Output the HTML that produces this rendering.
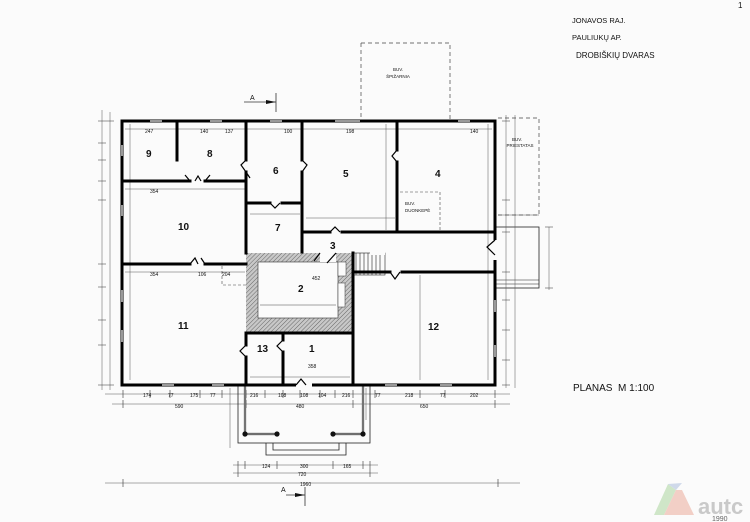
<!DOCTYPE html>
<html><head><meta charset="utf-8"><style>
html,body{margin:0;padding:0;background:#fbfbfb;}
svg{display:block}
text{font-family:"Liberation Sans",sans-serif;fill:#111}
.d{font-size:5px;fill:#333}
.r{font-size:10px;font-weight:bold}
</style></head><body>
<svg width="750" height="522" viewBox="0 0 750 522" xmlns="http://www.w3.org/2000/svg">
<defs>
<pattern id="h" width="3" height="3" patternUnits="userSpaceOnUse" patternTransform="rotate(45)">
<rect width="3" height="3" fill="#c8c8c8"/><line x1="0" y1="0" x2="0" y2="3" stroke="#666" stroke-width="1"/>
</pattern>
</defs>
<rect width="750" height="522" fill="#fbfbfb"/>
<text x="572" y="23" font-size="7.5">JONAVOS RAJ.</text>
<text x="572" y="40" font-size="7.5">PAULIUKŲ AP.</text>
<text x="576" y="58" font-size="8">DROBIŠKIŲ DVARAS</text>
<text x="738" y="8" font-size="8">1</text>
<path d="M361,43 H450 V120 M361,43 V120" stroke="#444" stroke-width="0.7" fill="none" stroke-dasharray="4,3"/>
<text x="398" y="71" font-size="4.5" text-anchor="middle">BUV.</text>
<text x="398" y="78" font-size="4.5" text-anchor="middle">ŠPIŽARNIA</text>
<path d="M498,118 H539 V215 M498,215 H539" stroke="#444" stroke-width="0.7" fill="none" stroke-dasharray="4,3"/>
<text x="517" y="141" font-size="4.5" text-anchor="middle">BUV.</text>
<text x="520" y="147" font-size="4.5" text-anchor="middle">PRIESTATAS</text>
<rect x="495" y="227" width="44" height="61" fill="none" stroke="#222" stroke-width="0.8"/>
<line x1="495" y1="280" x2="539" y2="280" stroke="#222" stroke-width="0.6"/>
<line x1="495" y1="284" x2="539" y2="284" stroke="#222" stroke-width="0.6"/>
<line x1="244" y1="102" x2="276" y2="102" stroke="#333" stroke-width="0.8"/>
<line x1="276" y1="93" x2="276" y2="112" stroke="#333" stroke-width="0.8"/>
<path d="M266,100 L276,102 L266,104Z" fill="#111"/>
<text x="250" y="100" font-size="7">A</text>
<line x1="286" y1="495" x2="305" y2="495" stroke="#333" stroke-width="0.8"/>
<line x1="305" y1="487" x2="305" y2="506" stroke="#333" stroke-width="0.8"/>
<path d="M295,493 L305,495 L295,497Z" fill="#111"/>
<text x="281" y="492" font-size="7">A</text>
<g stroke="#555" stroke-width="0.5" fill="none">
<line x1="102" y1="110" x2="102" y2="390"/>
<line x1="110" y1="112" x2="110" y2="390"/>
<line x1="506" y1="115" x2="506" y2="388"/>
<line x1="515" y1="115" x2="515" y2="388"/>
<line x1="549" y1="227" x2="549" y2="290"/>
<line x1="105" y1="394" x2="510" y2="394"/>
<line x1="112" y1="404" x2="510" y2="404"/>
<line x1="105" y1="483" x2="520" y2="483"/>
<line x1="233" y1="465" x2="378" y2="465"/>
<line x1="233" y1="473" x2="378" y2="473"/>
<line x1="230" y1="388" x2="230" y2="448"/>
<line x1="366" y1="388" x2="366" y2="420"/>
<line x1="125" y1="129" x2="492" y2="129"/>
<line x1="125" y1="189" x2="245" y2="189"/>
<line x1="125" y1="272" x2="245" y2="272"/>
<line x1="250" y1="377" x2="350" y2="377"/>
<line x1="306" y1="218" x2="395" y2="218"/>
<line x1="250" y1="214" x2="300" y2="214"/>
<line x1="130" y1="124" x2="130" y2="380"/>
<line x1="488" y1="124" x2="488" y2="380"/>
<line x1="420" y1="275" x2="420" y2="380"/>
<line x1="386" y1="124" x2="386" y2="230"/>
<line x1="498" y1="215" x2="539" y2="215"/>
</g>
<g stroke="#333" stroke-width="0.6">
<path d="M98,121h8 M98,143h8 M98,160h8 M98,181h8 M98,200h8 M98,264h8 M98,287h8 M98,320h8 M98,345h8 M98,385h8"/>
<path d="M106,121h8 M106,385h8"/>
<path d="M123,390v8 M150,390v8 M170,390v8 M200,390v8 M222,390v8 M246,390v8 M265,390v8 M283,390v8 M300,390v8 M320,390v8 M335,390v8 M353,390v8 M375,390v8 M420,390v8 M445,390v8 M495,390v8"/>
<path d="M123,400v8 M246,400v8 M353,400v8 M495,400v8"/>
<path d="M123,479v8 M498,479v8 M238,461v8 M245,461v8 M277,461v8 M333,461v8 M363,461v8 M370,461v8 M238,469v8 M370,469v8"/>
<path d="M502,121h8 M502,200h8 M502,232h8 M502,272h8 M502,300h8 M502,330h8 M502,360h8 M502,385h8 M545,227h8 M545,288h8"/>
</g>
<rect x="238" y="385" width="132" height="58" fill="none" stroke="#222" stroke-width="0.8"/>
<path d="M266,443 V455 H346 V443 M273,443 V450 H339 V443" fill="none" stroke="#222" stroke-width="0.8"/>
<path d="M245,385 V434 H277 M363,385 V434 H333" fill="none" stroke="#222" stroke-width="2.2"/>
<path d="M245,385 V434 H277 M363,385 V434 H333" fill="none" stroke="#eee" stroke-width="0.8"/>
<g fill="#111"><circle cx="245" cy="434" r="2.6"/><circle cx="277" cy="434" r="2.6"/><circle cx="333" cy="434" r="2.6"/><circle cx="363" cy="434" r="2.6"/></g>
<rect x="246" y="253" width="107" height="80" fill="url(#h)"/>
<rect x="258" y="262" width="80" height="56" fill="#fbfbfb" stroke="#333" stroke-width="0.6"/>
<rect x="320" y="253" width="16" height="9" fill="#fbfbfb"/>
<rect x="338" y="262" width="8" height="14" fill="#fbfbfb" stroke="#333" stroke-width="0.5"/>
<rect x="338" y="283" width="7" height="24" fill="#fbfbfb" stroke="#333" stroke-width="0.5"/>
<line x1="260" y1="305" x2="336" y2="305" stroke="#444" stroke-width="0.5"/>
<g stroke="#222" stroke-width="0.6" fill="none">
<rect x="353" y="253" width="32" height="22"/>
<path d="M356,253v22 M360,253v22 M364,253v22 M368,253v22 M372,253v22 M376,253v22 M380,253v22"/>
</g>
<rect x="370" y="247" width="15" height="8" fill="#fbfbfb"/>
<g stroke="#000" stroke-width="3" fill="none" stroke-linecap="square">
<rect x="122" y="121" width="373" height="264"/>
<line x1="122" y1="181" x2="190" y2="181"/>
<line x1="205" y1="181" x2="246" y2="181"/>
<line x1="177" y1="121" x2="177" y2="160"/>
<line x1="246" y1="121" x2="246" y2="160"/>
<line x1="246" y1="172" x2="246" y2="253"/>
<line x1="302" y1="121" x2="302" y2="160"/>
<line x1="302" y1="172" x2="302" y2="252"/>
<line x1="246" y1="203" x2="270" y2="203"/>
<line x1="282" y1="203" x2="302" y2="203"/>
<line x1="302" y1="232" x2="330" y2="232"/>
<line x1="342" y1="232" x2="495" y2="232"/>
<line x1="397" y1="121" x2="397" y2="150"/>
<line x1="397" y1="162" x2="397" y2="232"/>
<line x1="122" y1="264" x2="190" y2="264"/>
<line x1="205" y1="264" x2="246" y2="264"/>
<line x1="353" y1="272" x2="390" y2="272"/>
<line x1="402" y1="272" x2="495" y2="272"/>
<line x1="353" y1="253" x2="353" y2="385"/>
<line x1="246" y1="333" x2="246" y2="345"/>
<line x1="246" y1="357" x2="246" y2="385"/>
<line x1="283" y1="333" x2="283" y2="340"/>
<line x1="283" y1="352" x2="283" y2="385"/>
<line x1="246" y1="333" x2="353" y2="333"/>
</g>
<rect x="492" y="240" width="6" height="20" fill="#fbfbfb"/>
<rect x="296" y="382" width="16" height="6" fill="#fbfbfb"/>
<g stroke="#999" stroke-width="2">
<line x1="150" y1="121" x2="162" y2="121"/><line x1="210" y1="121" x2="222" y2="121"/><line x1="270" y1="121" x2="282" y2="121"/><line x1="335" y1="121" x2="360" y2="121"/><line x1="458" y1="121" x2="470" y2="121"/>
<line x1="122" y1="145" x2="122" y2="156"/><line x1="122" y1="205" x2="122" y2="216"/><line x1="122" y1="290" x2="122" y2="302"/><line x1="122" y1="330" x2="122" y2="342"/>
<line x1="162" y1="385" x2="174" y2="385"/><line x1="212" y1="385" x2="224" y2="385"/><line x1="385" y1="385" x2="397" y2="385"/><line x1="440" y1="385" x2="452" y2="385"/>
<line x1="495" y1="300" x2="495" y2="312"/><line x1="495" y1="345" x2="495" y2="357"/>
</g>
<g stroke="#000" stroke-width="1.2" fill="none">
<path d="M190,181 l-5,-6 M205,181 l5,-6 M195,181 l3,-5 l3,5"/>
<path d="M190,264 l5,-6 l3,6 M205,264 l-4,-6"/>
<path d="M246,160 l-5,5 l5,7 M302,160 l5,5 l-5,7 M246,172 l4,6"/>
<path d="M270,203 l5,5 l5,-5"/>
<path d="M330,232 l5,-5 l5,5"/>
<path d="M397,150 l-5,6 l5,6"/>
<path d="M390,272 l5,7 l5,-7"/>
<path d="M495,240 l-8,7 l8,8"/>
<path d="M246,345 l-6,6 l6,6 M283,340 l-6,6 l6,6"/>
<path d="M296,385 l5,-6 l5,6"/>
<path d="M320,253 l-6,8 M336,253 l-9,10"/>
</g>
<path d="M400,192 H440 V232" stroke="#444" stroke-width="0.6" fill="none" stroke-dasharray="3,2"/>
<path d="M222,266 V285 H246" stroke="#444" stroke-width="0.6" fill="none" stroke-dasharray="3,2"/>
<text x="405" y="205" font-size="4.5">BUV.</text>
<text x="405" y="212" font-size="4.5">DUONKEPĖ</text>
<text class="r" x="146" y="157">9</text>
<text class="r" x="207" y="157">8</text>
<text class="r" x="273" y="174">6</text>
<text class="r" x="343" y="177">5</text>
<text class="r" x="435" y="177">4</text>
<text class="r" x="275" y="231">7</text>
<text class="r" x="178" y="230">10</text>
<text class="r" x="330" y="249">3</text>
<text class="r" x="298" y="292">2</text>
<text class="r" x="178" y="329">11</text>
<text class="r" x="428" y="330">12</text>
<text class="r" x="257" y="352">13</text>
<text class="r" x="309" y="352">1</text>
<text x="573" y="391" font-size="10">PLANAS&#160;&#160;M 1:100</text>
<g class="d">
<text x="143" y="397">174</text><text x="168" y="397">77</text><text x="190" y="397">175</text><text x="210" y="397">77</text>
<text x="250" y="397">216</text><text x="278" y="397">108</text><text x="300" y="397">108</text><text x="318" y="397">104</text><text x="342" y="397">216</text>
<text x="375" y="397">77</text><text x="405" y="397">218</text><text x="440" y="397">77</text><text x="470" y="397">202</text>
<text x="175" y="408">590</text><text x="296" y="408">480</text><text x="420" y="408">650</text>
<text x="300" y="486">1960</text><text x="298" y="476">720</text><text x="300" y="468">300</text><text x="262" y="468">124</text><text x="343" y="468">165</text>
<text x="145" y="133">247</text><text x="200" y="133">140</text><text x="225" y="133">137</text><text x="284" y="133">100</text><text x="346" y="133">198</text><text x="470" y="133">140</text>
<text x="150" y="193">354</text><text x="150" y="276">354</text><text x="198" y="276">106</text><text x="222" y="276">204</text>
<text x="308" y="368">358</text><text x="312" y="280">452</text>
</g>
<!-- logo -->
<path d="M668,484 L654,515 L664,515 L676,490Z" fill="#cfe6c8"/>
<path d="M668,484 L676,490 L682,483Z" fill="#cfd9ea"/>
<path d="M676,490 L664,515 L694,515 L682,490Z" fill="#f2cfc6"/>
<text x="698" y="514" font-size="22" font-weight="bold" style="fill:#c9c9c9">autc</text>
<text x="712" y="521" font-size="7" style="fill:#666">1990</text>
</svg>
</body></html>
